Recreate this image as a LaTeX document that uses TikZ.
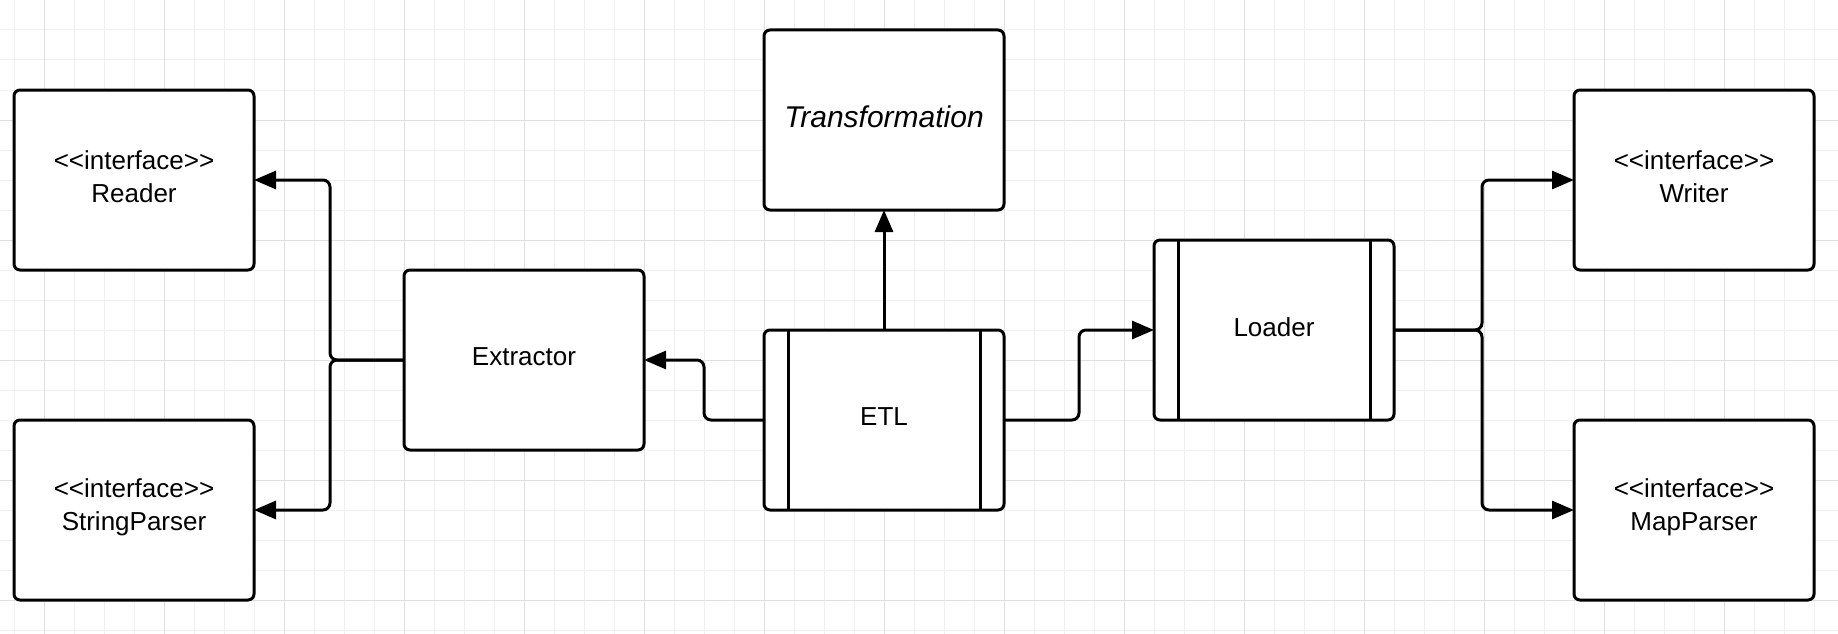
\documentclass[tikz,border=0pt]{standalone}
\usepackage{fontspec}
\setmainfont{Liberation Sans}
\usetikzlibrary{arrows.meta}
\definecolor{gridminor}{RGB}{240,240,240}
\definecolor{gridmajor}{RGB}{224,224,224}
\newcommand{\ifc}{<\kern0pt<interface>\kern0pt>}
\begin{document}
\begin{tikzpicture}[x=1pt,y=-1pt,
  box/.style={draw, line width=3pt, rounded corners=6pt, minimum width=240pt, minimum height=180pt,
    align=center, font=\fontsize{26}{33}\selectfont, inner sep=0pt, outer sep=0pt, fill=white},
  lbl/.style={align=center, font=\fontsize{26}{33}\selectfont, inner sep=0pt, yshift=3pt},
  conn/.style={line width=3pt, rounded corners=7pt},
  arr/.style={conn, -{Triangle[length=22pt,width=18pt]}},
  minorgrid/.style={gridminor, line width=1pt},
  majorgrid/.style={gridmajor, line width=1pt}]
\fill[white] (0,0) rectangle (1838,634);
\useasboundingbox (0,0) rectangle (1838,634);
\foreach \x in {14,44,...,1838} \draw[minorgrid] (\x,0) -- (\x,634);
\foreach \y in {30,60,...,634} \draw[minorgrid] (0,\y) -- (1838,\y);
\foreach \x in {44,164,...,1838} \draw[majorgrid] (\x,0) -- (\x,634);
\foreach \y in {0,120,...,634} \draw[majorgrid] (0,\y) -- (1838,\y);

\node[box] (reader) at (134,180) {};
\node[box] (sparser) at (134,510) {};
\node[box] (extractor) at (524,360) {};
\node[box] (etl) at (884,420) {};
\node[box] (trans) at (884,120) {};
\node[box] (loader) at (1274,330) {};
\node[box] (writer) at (1694,180) {};
\node[box] (mparser) at (1694,510) {};

\node[lbl] (treader) at (reader) {\ifc\\Reader};
\node[lbl] (tsparser) at (sparser) {\ifc\\StringParser};
\node[lbl] (textractor) at (extractor) {Extractor};
\node[lbl] (tetl) at (etl) {ETL};
\node[lbl, font=\fontsize{30}{36}\selectfont\itshape] (ttrans) at (trans) {Transformation};
\node[lbl] (tloader) at (loader) {Loader};
\node[lbl] (twriter) at (writer) {\ifc\\Writer};
\node[lbl] (tmparser) at (mparser) {\ifc\\MapParser};

\draw[line width=3pt] ([xshift=24pt]etl.north west) -- ([xshift=24pt]etl.south west);
\draw[line width=3pt] ([xshift=-24pt]etl.north east) -- ([xshift=-24pt]etl.south east);
\draw[line width=3pt] ([xshift=24pt]loader.north west) -- ([xshift=24pt]loader.south west);
\draw[line width=3pt] ([xshift=-24pt]loader.north east) -- ([xshift=-24pt]loader.south east);

\coordinate (jL) at (330,360);
\coordinate (jR) at (1482,330);
\draw[arr] (extractor.west) -- (jL) |- (reader.east);
\draw[arr] (extractor.west) -- (jL) |- (sparser.east);
\draw[arr] (etl.west) -- ++(-60,0) |- (extractor.east);
\draw[arr] (etl.north) -- (trans.south);
\draw[arr] (etl.east) -- ++(75,0) |- (loader.west);
\draw[arr] (loader.east) -- (jR) |- (writer.west);
\draw[arr] (loader.east) -- (jR) |- (mparser.west);
\end{tikzpicture}
\end{document}
